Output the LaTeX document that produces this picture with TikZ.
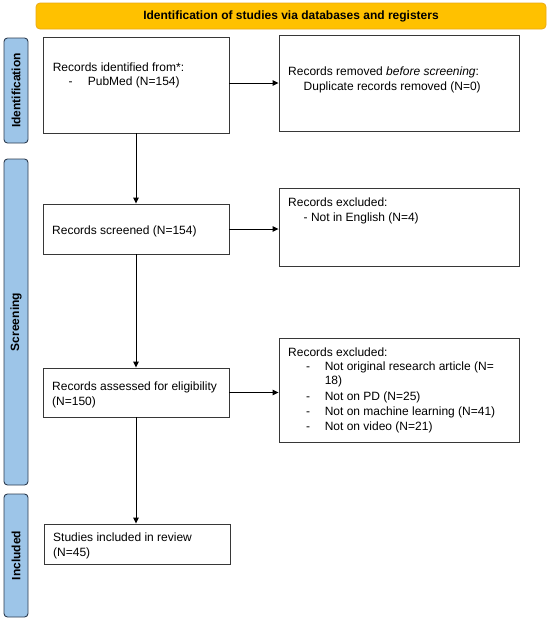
\documentclass[tikz,border=0pt]{standalone}
\usepackage{fontspec}
\setmainfont{Liberation Sans}
\usetikzlibrary{arrows.meta}
\definecolor{boxline}{RGB}{55,55,55}
\definecolor{sidefill}{RGB}{157,197,232}
\definecolor{sidedraw}{RGB}{45,60,80}
\definecolor{hdrfill}{RGB}{255,193,0}
\definecolor{hdrdraw}{RGB}{235,170,20}
\begin{document}
\begin{tikzpicture}[x=1pt,y=-1pt,
  box/.style={draw=boxline, line width=0.9pt, inner sep=0pt},
  txt/.style={anchor=base west, inner sep=0pt, font=\fontsize{12}{14.8}\selectfont},
  side/.style={draw=sidedraw, fill=sidefill, rounded corners=3.5pt, line width=0.9pt, inner sep=0pt,
    font=\fontsize{12}{14}\selectfont\bfseries, rotate=90},
  hdr/.style={draw=hdrdraw, fill=hdrfill, rounded corners=4pt, line width=0.8pt, inner sep=0pt,
    font=\fontsize{12}{14}\selectfont\bfseries},
  arr/.style={-{Triangle[length=6pt,width=5.5pt]}, line width=0.9pt, draw=black}]
\useasboundingbox (0,0) rectangle (550,622);
\fill[white] (0,0) rectangle (550,622);

% header
\node[hdr, minimum width=510pt, minimum height=26pt] (hdr) at (291,16) {Identification of studies via databases and registers};

% side bars
\node[side, minimum width=105pt, minimum height=24pt] (sid) at (16,90.5) {Identification};
\node[side, minimum width=326pt, minimum height=24pt] (sscr) at (16,322) {Screening};
\node[side, minimum width=123pt, minimum height=24pt] (sinc) at (16,555.5) {Included};

% boxes
\node[box, minimum width=186pt, minimum height=96pt] (b1) at (136,85) {};
\node[box, minimum width=240pt, minimum height=96pt] (r1) at (399,83) {};
\node[box, minimum width=186pt, minimum height=50pt] (b2) at (136,229) {};
\node[box, minimum width=240pt, minimum height=78pt] (r2) at (399,227) {};
\node[box, minimum width=186pt, minimum height=49pt] (b3) at (136,392.5) {};
\node[box, minimum width=240pt, minimum height=104pt] (r3) at (399,390) {};
\node[box, minimum width=186pt, minimum height=40pt] (b4) at (137,544) {};

% texts
\node[txt] (t1a) at (52.6,71) {Records identified from*:};
\node[txt] (t1b) at (68.4,85.3) {-};
\node[txt] (t1c) at (87.7,85.3) {PubMed (N=154)};

\node[txt] (u1a) at (288,75) {Records removed \textit{before screening}:};
\node[txt] (u1b) at (303.5,90.3) {Duplicate records removed (N=0)};

\node[txt] (t2) at (52,234.3) {Records screened (N=154)};

\node[txt] (u2a) at (288,206.3) {Records excluded:};
\node[txt] (u2b) at (303.5,221.3) {- Not in English (N=4)};

\node[txt] (t3a) at (52,390.3) {Records assessed for eligibility};
\node[txt] (t3b) at (52,405) {(N=150)};

\node[txt] (u3a) at (288,356) {Records excluded:};
\node[txt] (d3a) at (306,370) {-};
\node[txt] (u3b) at (324.6,370) {Not original research article (N=};
\node[txt] (u3c) at (324.6,384.5) {18)};
\node[txt] (d3d) at (306,400) {-};
\node[txt] (u3d) at (324.6,400) {Not on PD (N=25)};
\node[txt] (d3e) at (306,415) {-};
\node[txt] (u3e) at (324.6,415) {Not on machine learning (N=41)};
\node[txt] (d3f) at (306,430.3) {-};
\node[txt] (u3f) at (324.6,430.3) {Not on video (N=21)};

\node[txt] (t4a) at (53,541) {Studies included in review};
\node[txt] (t4b) at (53,556) {(N=45)};

% connectors
\draw[arr] (b1.east |- r1.west) -- (r1.west);
\draw[arr] (b1.south) -- (b2.north);
\draw[arr] (b2.east) -- (b2.east -| r2.west);
\draw[arr] (b2.south) -- (b3.north);
\draw[arr] (b3.east) -- (b3.east -| r3.west);
\draw[arr] (b3.south) -- (b3.south |- b4.north);
\end{tikzpicture}
\end{document}
